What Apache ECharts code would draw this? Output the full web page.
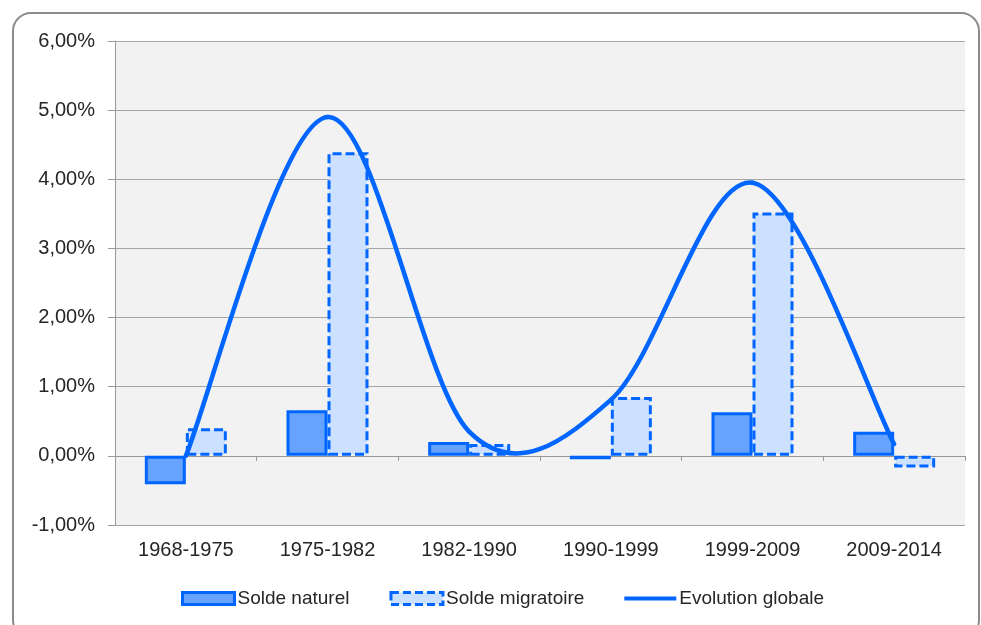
<!DOCTYPE html>
<html>
<head>
<meta charset="utf-8">
<script src="https://cdn.jsdelivr.net/npm/echarts@6/dist/echarts.min.js"></script>
<style>
html,body{margin:0;padding:0;background:#fff;}
#chart{width:981px;height:625px;}
</style>
</head>
<body>
<div id="chart"></div>
<script>
var categories = ['1968-1975', '1975-1982', '1982-1990', '1990-1999', '1999-2009', '2009-2014'];
var soldeNaturel = [-0.41, 0.66, 0.20, -0.05, 0.63, 0.35];
var soldeMigratoire = [0.40, 4.39, 0.17, 0.85, 3.52, -0.17];
var evolutionGlobale = [0.00, 4.90, 0.35, 0.81, 3.95, 0.17];
var yTicks = { min: -1, max: 6, interval: 1 };

var FONT = "'Liberation Sans', Arial, sans-serif";
var BLUE = '#0066ff';

var chart = echarts.init(document.getElementById('chart'));

function fmt(v) { return v.toFixed(2).replace('.', ',') + '%'; }

chart.setOption({
  animation: false,
  backgroundColor: '#ffffff',
  graphic: [{
    type: 'rect',
    silent: true,
    z: -10,
    shape: { x: 13, y: 13, width: 966, height: 625, r: 18 },
    style: { fill: 'none', stroke: '#8c8c8c', lineWidth: 2 }
  }],
  grid: {
    left: 115, right: 16, top: 41, bottom: 100,
    show: true, backgroundColor: '#f2f2f2', borderWidth: 0
  },
  legend: {
    left: 181, top: 589, padding: 0,
    itemWidth: 52, itemHeight: 12, itemGap: 40,
    textStyle: { fontFamily: FONT, fontSize: 19, color: '#262626', padding: [0, 0, 0, -2] },
    itemStyle: { borderWidth: 3 },
    lineStyle: { width: 4 },
    data: [
      { name: 'Solde naturel', icon: 'rect', itemStyle: { color: '#66a3ff', borderColor: BLUE, borderWidth: 3 } },
      { name: 'Solde migratoire', icon: 'rect', itemStyle: { color: '#cce0ff', borderColor: BLUE, borderWidth: 3, borderType: [8, 4] } },
      { name: 'Evolution globale', icon: 'path://M0,0 M52,12 M0,4 L52,4 L52,8 L0,8 Z' }
    ]
  },
  xAxis: [{
    type: 'category',
    data: categories,
    position: 'bottom',
    axisLine: { show: false, onZero: false },
    axisTick: { show: false },
    axisLabel: { fontFamily: FONT, fontSize: 20, color: '#262626', margin: 15 }
  }, {
    type: 'category',
    data: categories,
    position: 'bottom',
    axisLine: { show: true, onZero: true, lineStyle: { color: '#999999', width: 1 } },
    axisTick: { show: true, length: 5, inside: false, lineStyle: { color: '#999999' } },
    axisLabel: { show: false }
  }],
  yAxis: {
    type: 'value',
    min: yTicks.min, max: yTicks.max, interval: yTicks.interval,
    axisLine: { show: true, lineStyle: { color: '#999999', width: 1 } },
    axisTick: { show: true, length: 7, lineStyle: { color: '#999999' } },
    splitLine: { show: true, lineStyle: { color: '#a6a6a6', width: 1 } },
    axisLabel: { fontFamily: FONT, fontSize: 20, color: '#262626', margin: 20, formatter: fmt }
  },
  series: [{
    name: 'Solde naturel',
    type: 'bar',
    xAxisIndex: 0,
    data: soldeNaturel,
    barWidth: 41,
    barGap: '0%',
    itemStyle: { color: '#66a3ff', borderColor: BLUE, borderWidth: 3 }
  }, {
    name: 'Solde migratoire',
    type: 'bar',
    xAxisIndex: 0,
    data: soldeMigratoire,
    barWidth: 41,
    barGap: '0%',
    itemStyle: { color: '#cce0ff', borderColor: BLUE, borderWidth: 3, borderType: [9, 4] }
  }, {
    name: 'Evolution globale',
    type: 'line',
    xAxisIndex: 0,
    data: [],
    symbol: 'none',
    lineStyle: { color: BLUE, width: 4 },
    itemStyle: { color: BLUE }
  }, {
    name: 'Evolution globale',
    type: 'custom',
    xAxisIndex: 0,
    z: 5,
    data: evolutionGlobale.map(function (v, i) { return [i, v]; }),
    encode: { x: 0, y: 1 },
    itemStyle: { color: BLUE },
    renderItem: function (params, api) {
      var n = evolutionGlobale.length;
      var i = params.dataIndex;
      if (i >= n - 1) { return { type: 'group', children: [] }; }
      function P(k) {
        k = Math.max(0, Math.min(n - 1, k));
        return api.coord([k, evolutionGlobale[k]]);
      }
      var p0 = P(i - 1), p1 = P(i), p2 = P(i + 1), p3 = P(i + 2);
      var t = 1 / 6;
      return {
        type: 'bezierCurve',
        shape: {
          x1: p1[0], y1: p1[1],
          cpx1: p1[0] + (p2[0] - p0[0]) * t, cpy1: p1[1] + (p2[1] - p0[1]) * t,
          cpx2: p2[0] - (p3[0] - p1[0]) * t, cpy2: p2[1] - (p3[1] - p1[1]) * t,
          x2: p2[0], y2: p2[1]
        },
        style: { fill: null, stroke: BLUE, lineWidth: 4.5, lineCap: 'round' }
      };
    }
  }]
});
</script>
</body>
</html>
